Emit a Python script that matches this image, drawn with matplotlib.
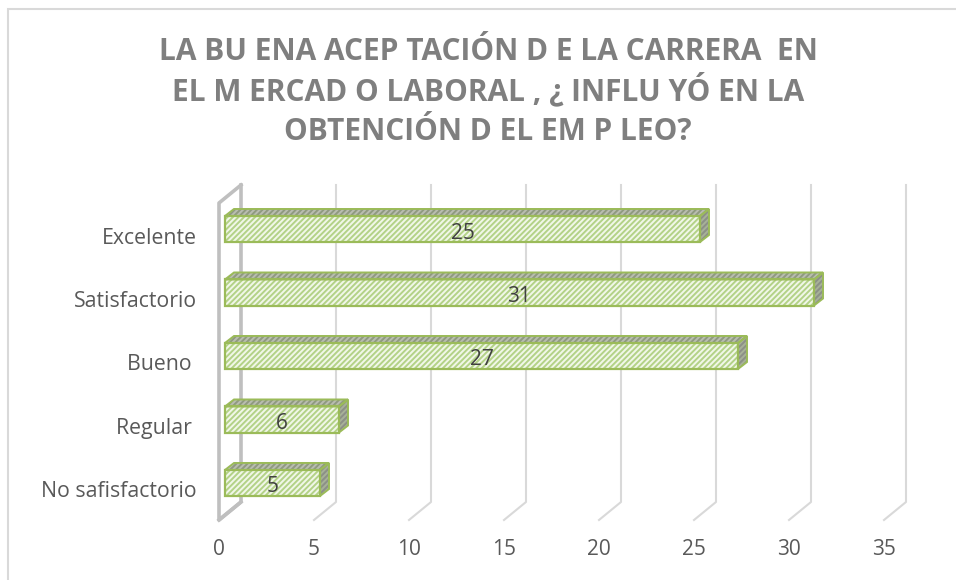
import matplotlib.pyplot as plt
import matplotlib.transforms as mtransforms
from matplotlib.patches import Polygon, Rectangle
from matplotlib.lines import Line2D

categorias = ['No safisfactorio', 'Regular ', 'Bueno ', 'Satisfactorio', 'Excelente']
valores = [5, 6, 27, 31, 25]
ticks_x = [0, 5, 10, 15, 20, 25, 30, 35]
titulo = ['LA BU ENA ACEP TACIÓN D E LA CARRERA  EN',
          'EL M ERCAD O LABORAL , ¿ INFLU YÓ EN LA',
          'OBTENCIÓN D EL EM P LEO?']

plt.rcParams['font.family'] = ['Open Sans', 'DejaVu Sans']
plt.rcParams['hatch.linewidth'] = 1.4

W, H = 956, 580
fig = plt.figure(figsize=(W / 100, H / 100), dpi=100)
ax = fig.add_axes([219 / W, 60 / H, 665 / W, 335 / H])
ax.set_xlim(0, 35)
ax.set_ylim(-0.583, 4.693)
for s in ax.spines.values():
    s.set_visible(False)
ax.set_yticks([])
ax.set_xticks(ticks_x)
ax.set_xticklabels([str(t) for t in ticks_x], fontsize=15, color='#595959')
ax.tick_params(axis='x', length=0, pad=14)
ax.patch.set_alpha(0)

ident = mtransforms.IdentityTransform()
T = ax.transData.transform
y0, y1 = ax.get_ylim()

# back gridlines + floor diagonals
for t in ticks_x:
    xf, yf = T((t, y0))
    _, yt = T((t, y1))
    col = '#bfbfbf' if t == 0 else '#d9d9d9'
    lw = 2.6 if t == 0 else 1.5
    ax.add_line(Line2D([xf + 22, xf + 22, xf], [yt, yf + 18, yf], color=col, lw=lw,
                       transform=ident, clip_on=False, zorder=1))

# left wall front edge
xf, yf = T((0, y0))
_, yt = T((0, y1))
ax.add_line(Line2D([xf + 22, xf, xf, xf + 22], [yt, yt - 18, yf, yf + 18],
                   color='#bfbfbf', lw=2.6, transform=ident, clip_on=False, zorder=1))

# bars (front face)
h = 0.41
off = mtransforms.ScaledTranslation(0.06, 0, fig.dpi_scale_trans)
ax.barh(range(len(valores)), valores, height=h, color='#f1f7e8',
        edgecolor='#b3d287', hatch='//////', linewidth=0,
        transform=ax.transData + off, zorder=3)
ax.barh(range(len(valores)), valores, height=h, fill=False,
        edgecolor='#9bbb59', linewidth=1.6,
        transform=ax.transData + off, zorder=4)

dx, dy = 9, 7
for i, v in enumerate(valores):
    xl, yt_ = T((0, i + h / 2))
    xr, yb_ = T((v, i - h / 2))
    xl += 6
    xr += 6
    top = [(xl, yt_), (xr, yt_), (xr + dx, yt_ + dy), (xl + dx, yt_ + dy)]
    side = [(xr, yb_), (xr, yt_), (xr + dx, yt_ + dy), (xr + dx, yb_ + dy)]
    ax.add_patch(Polygon(top, closed=True, transform=ident, facecolor='#b9bdb0',
                         edgecolor='#8f9a80', hatch='//////', linewidth=0,
                         clip_on=False, zorder=3))
    ax.add_patch(Polygon(side, closed=True, transform=ident, facecolor='#8c9087',
                         edgecolor='#a7b198', hatch='//////', linewidth=0,
                         clip_on=False, zorder=3))
    for pts in (top, side):
        ax.add_patch(Polygon(pts, closed=True, transform=ident, fill=False,
                             edgecolor='#9bbb59', linewidth=1.4, clip_on=False, zorder=4))
    ax.text(v / 2, i, str(v), ha='center', va='center', fontsize=15, color='#404040',
            transform=ax.transData + mtransforms.ScaledTranslation(0.06, -0.04, fig.dpi_scale_trans),
            zorder=5)

# category labels
lab_tr = ax.get_yaxis_transform() + mtransforms.ScaledTranslation(0, -0.09, fig.dpi_scale_trans)
for i, c in enumerate(categorias):
    ax.text(-22 / 665, i, c, ha='right', va='center', fontsize=15.3, color='#595959',
            transform=lab_tr)

# title, one line at a time (baselines 60, 100, 140 px from top)
for k, linea in enumerate(titulo):
    fig.text(488 / W, 1 - (60 + 40 * k) / H, linea, ha='center', va='baseline',
             fontsize=21.5, fontweight='bold', color='#7f7f7f')

fig.add_artist(Rectangle((8 / W, -0.2), 1.5, 0.2 + 1 - 9 / H, transform=fig.transFigure,
                         fill=False, edgecolor='#d9d9d9', lw=1.5))

fig.savefig('out.png', dpi=100)
